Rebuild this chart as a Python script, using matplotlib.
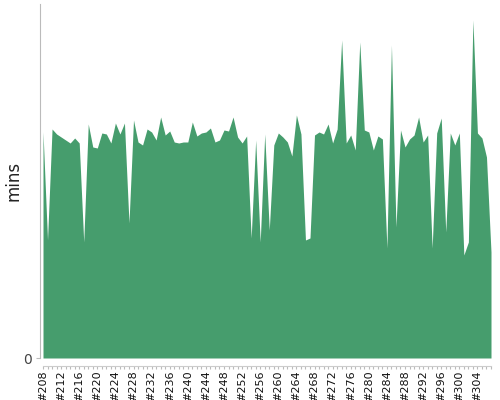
import matplotlib
matplotlib.use("Agg")
import matplotlib.pyplot as plt

builds = list(range(208, 308))
mins = [226, 118, 229, 224, 221, 218, 215, 220, 215, 116,
        234, 211, 210, 225, 224, 215, 235, 224, 235, 135,
        238, 216, 213, 229, 226, 218, 241, 223, 227, 216,
        215, 216, 216, 236, 222, 225, 226, 230, 216, 218,
        228, 227, 241, 221, 215, 222, 120, 218, 116, 224,
        128, 213, 225, 221, 216, 202, 243, 224, 118, 120,
        223, 226, 224, 234, 215, 229, 318, 215, 223, 208,
        316, 228, 226, 208, 222, 219, 110, 313, 131, 228,
        211, 219, 223, 241, 216, 223, 110, 225, 240, 126,
        225, 213, 225, 103, 116, 338, 225, 220, 201, 106]
tick_labels = ["#%d" % b if b % 4 == 0 else "" for b in builds]

fig = plt.figure(figsize=(5, 4), dpi=100)
ax = fig.add_axes([40/500, 42/400, 451/500, 354/400])
ax.fill_between(builds, mins, 0, color="#469d6d", linewidth=0)
ax.set_xlim(208 - 3/4.52, 307)
ax.set_ylim(0, 354)

for s in ["top", "right"]:
    ax.spines[s].set_visible(False)
ax.spines["left"].set_color("#bbbbbb")
ax.spines["left"].set_bounds(0, 354)
ax.spines["bottom"].set_color("#cccccc")
ax.spines["bottom"].set_position(("outward", 6))
ax.spines["bottom"].set_bounds(208, 307)

ax.set_yticks([0])
ax.set_yticklabels(["0"], fontsize=10, color="#444444")
ax.tick_params(axis="y", length=3, color="#bbbbbb", pad=3)
ax.set_xticks(builds)
ax.set_xticklabels(tick_labels, rotation=90, fontsize=8, color="#111111")
ax.tick_params(axis="x", length=2, color="#bbbbbb", pad=1)
ax.set_ylabel("mins", fontsize=12, color="#222222")
ax.yaxis.set_label_coords(-18/451, 0.5)

fig.savefig("out.png", dpi=100)
